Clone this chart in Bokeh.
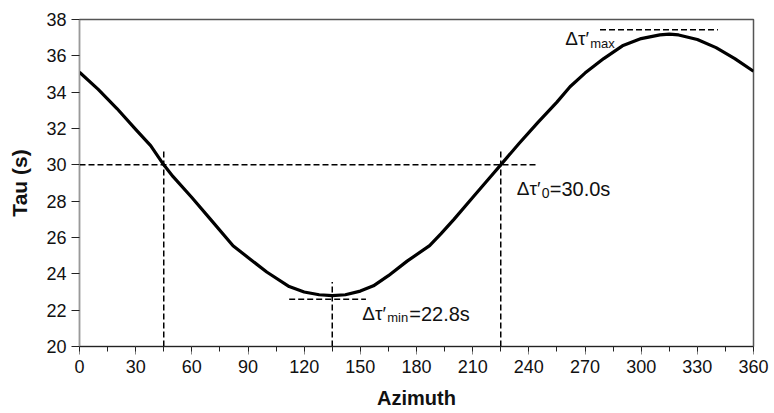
from bokeh.plotting import figure
from bokeh.models import Range1d, FixedTicker, Label
from bokeh.embed import file_html
from bokeh.resources import INLINE

# ---- data ----
azimuth = [0, 10, 20, 30, 38, 45, 50, 60, 70, 82, 90, 100, 112, 120, 128, 135,
           142, 150, 157, 165, 175, 187, 193, 200, 210, 220, 225, 235, 245, 255,
           262, 270, 280, 290, 300, 310, 315, 320, 330, 340, 350, 360]
tau = [35.10, 34.15, 33.10, 31.95, 31.06, 30.00, 29.35, 28.20, 27.00, 25.55, 24.90,
       24.10, 23.30, 23.00, 22.85, 22.80, 22.85, 23.05, 23.34, 23.90, 24.70, 25.55,
       26.20, 27.00, 28.20, 29.40, 30.00, 31.20, 32.35, 33.45, 34.30, 35.05, 35.85,
       36.55, 36.95, 37.15, 37.20, 37.15, 36.90, 36.45, 35.85, 35.15]

x_ticks = [0, 30, 60, 90, 120, 150, 180, 210, 240, 270, 300, 330, 360]
x_minor = [15, 45, 75, 105, 135, 165, 195, 225, 255, 285, 315, 345]
y_ticks = [20, 22, 24, 26, 28, 30, 32, 34, 36, 38]

tau0 = 30.0
az_cross = [45, 225]
az_min, tau_min = 135, 22.8
az_max, tau_max = 315, 37.2
h0_x = [0, 245]
cross_top = 30.8
min_ref_x = [112, 153]
min_ref_y = 22.6
min_v_top = 23.55
max_ref_x = [278, 341]
max_ref_y = 37.43

FONT = "Liberation Sans"

p = figure(width=774, height=413, output_backend="svg", toolbar_location=None,
           x_range=Range1d(0, 360), y_range=Range1d(20, 38),
           min_border_left=79, min_border_right=21, min_border_top=19,
           min_border_bottom=67)
p.background_fill_color = "white"
p.border_fill_color = "white"
p.outline_line_color = "#555555"
p.outline_line_width = 1.5
p.xgrid.visible = False
p.ygrid.visible = False

# dashed reference lines
dash = dict(line_color="black", line_width=1.5, line_dash="6 3")
p.line(h0_x, [tau0, tau0], **dash)
for a in az_cross:
    p.line([a, a], [20, cross_top], **dash)
p.line([az_min, az_min], [20, min_v_top], **dash)
p.line(min_ref_x, [min_ref_y, min_ref_y], **dash)
p.line(max_ref_x, [max_ref_y, max_ref_y], **dash)

# main curve
p.line(azimuth, tau, line_color="black", line_width=3.2, line_join="round")

# axes
p.xaxis.ticker = FixedTicker(ticks=x_ticks, minor_ticks=x_minor + x_ticks)
p.yaxis.ticker = FixedTicker(ticks=y_ticks, minor_ticks=[])
for ax in (p.xaxis, p.yaxis):
    ax.major_label_text_font = FONT
    ax.major_label_text_font_size = "18px"
    ax.major_label_text_color = "#111111"
    ax.major_tick_out = 8
    ax.major_tick_in = 0
    ax.axis_label_text_font = FONT
    ax.axis_label_text_font_style = "bold"
    ax.axis_label_text_font_size = "20px"
    ax.axis_label_text_color = "#111111"
p.xaxis.axis_label = "Azimuth"
p.yaxis.axis_label = "Tau (s)"
p.yaxis.axis_label_text_font_size = "21px"
p.xaxis.axis_line_color = "#222222"
p.xaxis.major_tick_line_color = "#888888"
p.xaxis.minor_tick_line_color = "#222222"
p.xaxis.minor_tick_out = 5
p.xaxis.minor_tick_in = 0
p.xaxis.major_label_standoff = 5
p.xaxis.axis_label_standoff = 11
p.yaxis.axis_line_color = "#999999"
p.yaxis.major_tick_line_color = "#222222"
p.yaxis.major_label_standoff = 5
p.yaxis.axis_label_standoff = 12


def put(x, y, dx, dy, text, size):
    p.add_layout(Label(x=x, y=y, x_offset=dx, y_offset=dy, text=text,
                       text_font=FONT, text_font_size=size, text_color="#111111",
                       text_baseline="alphabetic", text_align="left"))


# annotations
put(az_cross[1], tau0, 16, -24, "Δτ′", "19px")
put(az_cross[1], tau0, 41, -28, "0", "14px")
put(az_cross[1], tau0, 49, -24, f"={tau0:.1f}s", "20px")

put(az_min, tau_min, 30, -18, "Δτ′", "19px")
put(az_min, tau_min, 55, -22, "min", "13px")
put(az_min, tau_min, 77, -18, f"={tau_min:.1f}s", "20px")

put(az_max, tau_max, -104, -4.5, "Δτ′", "19px")
put(az_max, tau_max, -79, -9, "max", "13px")

open("out.html", "w").write(file_html(p, INLINE))
